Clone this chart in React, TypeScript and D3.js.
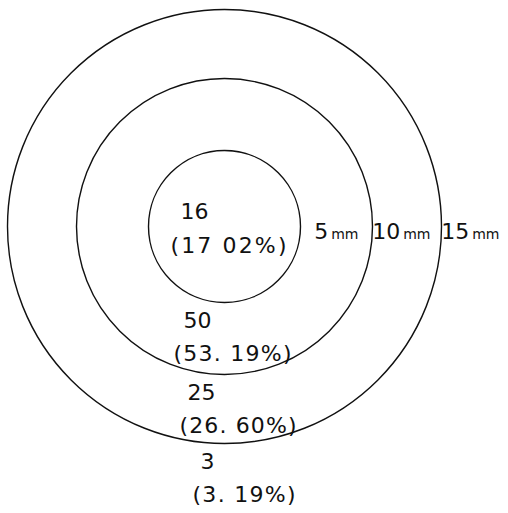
import React from "react";
import * as d3 from "d3";

// ring radii in mm, and counts / shares for each zone (inner disc outwards)
const ringMm = [5, 10, 15];
const ringLabels = ["5", "10", "15"];
const counts = ["16", "50", "25", "3"];
const shares = ["(17 02%)", "(53. 19%)", "(26. 60%)", "(3. 19%)"];

const W = 508,
  H = 513;
const cx = 224.5,
  cy = 226.5;

// label layout (px offsets only)
const countDx = [-44, -41, -37, -24];
const shareDx = [-54, -51, -45, -32];
const shareLen = [116, 118, 117, 103];

export default function App() {
  const r = d3.scaleLinear().domain([0, 5, 10, 15]).range([0, 76, 148, 217]);
  const font = "'DejaVu Sans', Arial, sans-serif";

  // vertical position for each zone's label pair
  const countY = counts.map((_, i) => (i === 0 ? cy - 8 : cy + r(ringMm[i - 1]) + 25));
  const shareY = counts.map((_, i) => (i === 0 ? cy + 26 : cy + r(ringMm[i - 1]) + 58));

  return (
    <svg
      width={W}
      height={H}
      style={{ position: "absolute", left: 0, top: 0, background: "#fff" }}
      fontFamily={font}
    >
      {ringMm.map((d) => (
        <circle key={d} cx={cx} cy={cy} r={r(d)} fill="none" stroke="#111" strokeWidth={1.4} />
      ))}
      {ringMm.map((d, i) => (
        <text key={"mm" + d} x={cx + r(d) + 58} y={239} textAnchor="end" fill="#111">
          <tspan fontSize={22}>{ringLabels[i]}</tspan>
          <tspan fontSize={14} dx={3}>mm</tspan>
        </text>
      ))}
      {counts.map((c, i) => (
        <text key={"c" + i} x={cx + countDx[i]} y={countY[i]} fontSize={22} fill="#111">
          {c}
        </text>
      ))}
      {shares.map((s, i) => (
        <text
          key={"s" + i}
          x={cx + shareDx[i]}
          y={shareY[i]}
          fontSize={22}
          fill="#111"
          textLength={shareLen[i]}
          lengthAdjust="spacing"
        >
          {s}
        </text>
      ))}
    </svg>
  );
}
